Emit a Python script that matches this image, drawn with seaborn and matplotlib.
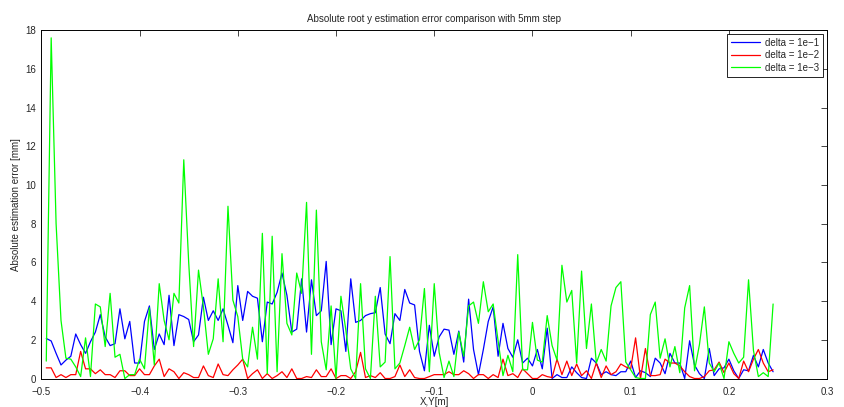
import numpy as np
import pandas as pd
import matplotlib
matplotlib.use("Agg")
import matplotlib.pyplot as plt
import seaborn as sns

# Positions along the line, 5mm step
x_pos = np.round(np.arange(-0.495, 0.2451, 0.005), 3)

err_d1 = [2.07, 1.94, 1.3, 0.7, 0.95, 1.15, 2.3, 1.75, 1.3, 1.9, 2.4, 3.3, 2.15, 1.7, 1.8, 3.6, 2.05, 2.95, 0.8, 0.8,
          2.95, 3.75, 1.5, 2.3, 1.75, 4.3, 1.7, 3.3, 3.2, 3.05, 1.9, 2.25, 4.2, 3.0, 3.5, 3.0, 3.6, 2.75, 1.85, 4.8,
          3.0, 4.5, 4.25, 4.15, 1.9, 3.95, 3.85, 4.45, 5.45, 4.3, 2.4, 2.55, 5.15, 2.4, 5.1, 3.25, 3.5, 6.05, 1.75, 3.6,
          3.5, 1.4, 5.15, 2.9, 3.0, 3.25, 3.35, 3.4, 4.7, 2.3, 1.8, 3.35, 3.0, 4.6, 3.9, 3.8, 1.4, 0.4, 2.75, 1.15,
          2.15, 2.55, 2.5, 1.25, 2.45, 0.85, 4.1, 1.5, 0.2, 1.5, 2.95, 3.7, 1.15, 2.85, 1.55, 1.1, 2.0, 0.8, 1.05, 0.65,
          1.5, 0.5, 2.6, 0.0, 0.2, 0.05, 0.05, 0.6, 0.3, 0.05, 0.0, 1.05, 0.8, 0.2, 0.35, 0.2, 0.15, 0.35, 0.35, 0.9,
          0.05, 0.4, 0.3, 0.1, 1.05, 0.8, 0.25, 1.3, 0.8, 0.8, 0.0, 1.95, 0.7, 0.25, 0.0, 1.55, 0.15, 0.5, 0.55, 1.0,
          0.4, 0.0, 0.45, 0.4, 1.2, 0.6, 1.5, 0.8, 0.35]

err_d2 = [0.55, 0.55, 0.05, 0.2, 0.05, 0.2, 0.2, 1.4, 0.5, 0.5, 0.25, 0.45, 0.2, 0.2, 0.05, 0.4, 0.4, 0.15, 0.15, 0.5,
          0.2, 0.2, 0.65, 1.0, 0.1, 0.5, 0.35, 0.0, 0.3, 0.2, 0.05, 0.05, 0.65, 0.15, 0.05, 0.75, 0.2, 0.15, 0.45, 0.7,
          1.0, 0.0, 0.25, 0.45, 0.0, 0.25, 0.0, 0.15, 0.35, 0.05, 0.5, 0.0, 0.0, 0.1, 0.05, 0.45, 0.1, 0.1, 0.5, 0.0,
          0.15, 0.15, 0.0, 0.35, 1.35, 0.05, 0.15, 0.05, 0.3, 0.0, 0.0, 0.1, 0.7, 0.1, 0.45, 0.05, 0.0, 0.0, 0.1, 0.2,
          0.2, 0.2, 0.35, 0.2, 0.2, 0.4, 0.25, 0.0, 0.2, 0.2, 0.0, 0.2, 0.05, 1.0, 0.15, 0.25, 0.05, 0.5, 0.25, 0.0,
          0.0, 0.2, 0.1, 0.05, 1.0, 0.2, 0.9, 0.15, 0.75, 0.15, 0.4, 0.0, 0.8, 0.05, 0.65, 0.2, 0.35, 0.75, 0.6, 0.5,
          2.1, 0.0, 1.55, 0.15, 0.15, 0.2, 1.0, 0.8, 0.8, 0.65, 0.35, 0.1, 0.0, 0.0, 0.1, 0.4, 0.45, 0.85, 0.3, 0.8,
          0.25, 0.0, 0.9, 0.35, 1.0, 1.5, 0.8, 0.35, 0.45]

err_d3 = [0.9, 17.6, 8.0, 3.0, 1.05, 1.0, 0.6, 0.1, 2.1, 0.1, 3.85, 3.7, 1.65, 4.4, 1.1, 1.25, 0.0, 0.2, 0.2, 1.0,
          0.5, 3.65, 0.7, 4.9, 3.0, 2.0, 4.4, 3.9, 11.3, 6.0, 1.65, 5.6, 3.7, 1.25, 2.05, 5.15, 1.9, 8.9, 4.05, 3.2,
          1.0, 0.6, 2.65, 1.0, 7.5, 0.25, 7.35, 0.35, 6.45, 2.85, 2.25, 5.45, 4.4, 9.1, 1.25, 8.7, 1.9, 0.45, 3.75, 0.0,
          4.25, 2.5, 0.5, 0.0, 4.9, 0.5, 0.0, 4.25, 0.6, 0.85, 6.3, 0.5, 0.8, 1.7, 2.65, 1.5, 2.0, 4.65, 0.35, 4.9,
          1.35, 0.05, 0.9, 0.1, 2.4, 1.15, 3.75, 3.95, 2.85, 5.0, 3.45, 3.85, 1.95, 0.15, 1.2, 0.35, 6.4, 0.45, 0.45, 2.9,
          0.95, 0.85, 3.25, 1.7, 0.95, 5.85, 3.95, 4.55, 0.8, 5.55, 1.55, 3.85, 0.8, 1.5, 0.9, 3.75, 4.7, 5.0, 0.85, 0.45,
          0.05, 0.0, 0.0, 3.3, 3.95, 1.05, 2.05, 0.6, 1.65, 0.3, 3.65, 4.8, 0.4, 1.75, 3.7, 0.8, 0.35, 0.8, 0.0, 1.9,
          1.3, 0.8, 1.1, 5.1, 1.45, 0.1, 0.3, 0.1, 3.85]

labels = ["delta = 1e\u22121", "delta = 1e\u22122", "delta = 1e\u22123"]
colors = ["#0000ff", "#ff0000", "#00ff00"]

df = pd.DataFrame({
    "x": np.concatenate([x_pos] * 3),
    "err": np.concatenate([err_d1, err_d2, err_d3]),
    "series": np.repeat(labels, len(x_pos)),
})

sns.set_style("white")
plt.rcParams["font.family"] = ["Liberation Sans", "DejaVu Sans"]
plt.rcParams["font.size"] = 7

fig = plt.figure(figsize=(8.44, 4.07), dpi=100)
ax = fig.add_axes([0.049, 0.070, 0.931, 0.856])

sns.lineplot(data=df, x="x", y="err", hue="series", palette=dict(zip(labels, colors)),
             estimator=None, sort=False, linewidth=0.9, ax=ax)

ax.set_xlim(-0.5, 0.3)
ax.set_ylim(0, 18)
ax.set_xticks(np.arange(-0.5, 0.31, 0.1))
ax.set_xticklabels(["\u22120.5", "\u22120.4", "\u22120.3", "\u22120.2", "\u22120.1", "0", "0.1", "0.2", "0.3"])
ax.set_yticks(range(0, 19, 2))
ax.tick_params(direction="in", length=4, width=0.6, labelsize=7, top=True, right=True)
ax.tick_params(axis="x", pad=6)
ax.tick_params(axis="y", pad=4)
for s in ax.spines.values():
    s.set_color("black")
    s.set_linewidth(0.7)

ax.set_title("Absolute root y estimation error comparison with 5mm step", fontsize=7, pad=6)
ax.set_xlabel("X,Y[m]", fontsize=7, labelpad=0)
ax.set_ylabel("Absolute estimation error [mm]", fontsize=7, labelpad=3)

leg = ax.legend(loc="upper right", fontsize=7, frameon=True, fancybox=False, edgecolor="black",
                framealpha=1, handlelength=3.0, handletextpad=0.5, borderaxespad=0.4,
                labelspacing=0.25, borderpad=0.4)
leg.get_frame().set_linewidth(0.6)

fig.savefig("out.png", dpi=100)
